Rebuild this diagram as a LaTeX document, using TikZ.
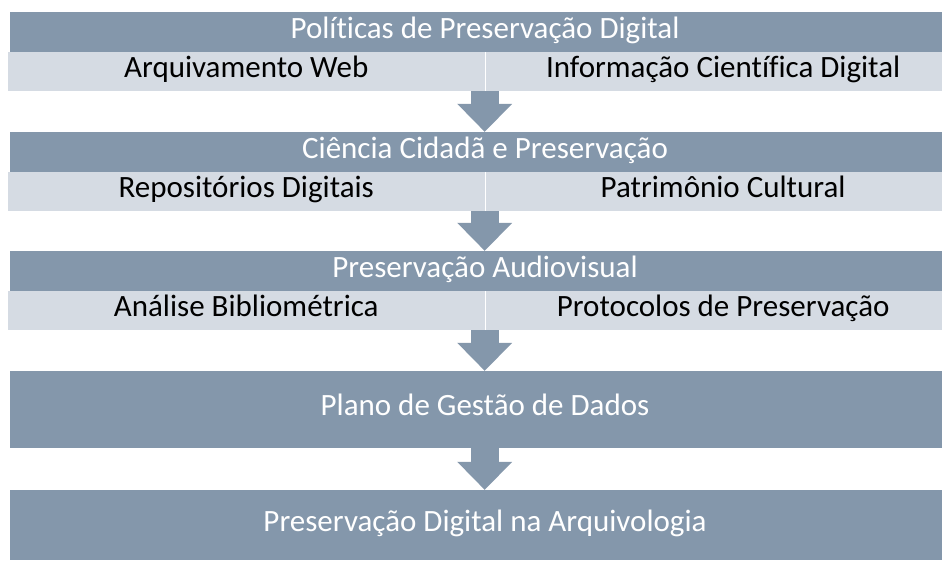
\documentclass[tikz,border=0pt]{standalone}
\usepackage{fontspec}
\setmainfont{Carlito}[Ligatures=NoCommon]
\usetikzlibrary{positioning,arrows.meta}

\definecolor{bandDark}{HTML}{8497AB}
\definecolor{bandLight}{HTML}{D5DBE3}

\tikzset{
  bandtext/.style={inner sep=0pt, text height=20pt, text depth=7pt,
    font=\fontsize{31}{36}\selectfont},
  topic/.style={bandtext, fill=bandDark, text=white,
    minimum width=932pt, minimum height=40pt},
  subtopic/.style={bandtext, fill=bandLight, text=black, minimum height=39pt},
  shifted/.style={execute at begin node={\hspace*{18pt}}},
  flow/.style={draw=bandDark, line width=28pt,
    -{Triangle[width=55pt, length=28pt, line width=0pt]}}
}

\begin{document}
\begin{tikzpicture}[x=1pt, y=-1pt]
    % Page frame
    \useasboundingbox (0,0) rectangle (951,561);

    % Level 1
    \node[topic, shifted] (pol) at (476,32) {Políticas de Preservação Digital};
    \node[subtopic, minimum width=476.5pt] (arq) at (246.25,71.5) {Arquivamento Web};
    \node[subtopic, shifted, minimum width=456.5pt, right=1pt of arq] (inf) {Informação Científica Digital};

    % Level 2
    \node[topic, shifted] (cid) at (476,152) {Ciência Cidadã e Preservação};
    \node[subtopic, minimum width=476.5pt] (rep) at (246.25,191.5) {Repositórios Digitais};
    \node[subtopic, shifted, minimum width=456.5pt, right=1pt of rep] (pat) {Patrimônio Cultural};

    % Level 3
    \node[topic, shifted] (aud) at (476,271) {Preservação Audiovisual};
    \node[subtopic, minimum width=476.5pt] (ana) at (246.25,310.5) {Análise Bibliométrica};
    \node[subtopic, shifted, minimum width=456.5pt, right=1pt of ana] (pro) {Protocolos de Preservação};

    % Level 4 and 5
    \node[topic, shifted, minimum height=77pt] (pla) at (476,409.5) {Plano de Gestão de Dados};
    \node[topic, shifted, minimum height=70pt] (dig) at (476,525) {Preservação Digital na Arquivologia};

    % Block arrows between levels
    \foreach \from/\to in {arq/cid, rep/aud, ana/pla, pla/dig}
        \draw[flow] (\from.south -| arq.south east) -- (\to.north -| arq.south east);
\end{tikzpicture}
\end{document}
